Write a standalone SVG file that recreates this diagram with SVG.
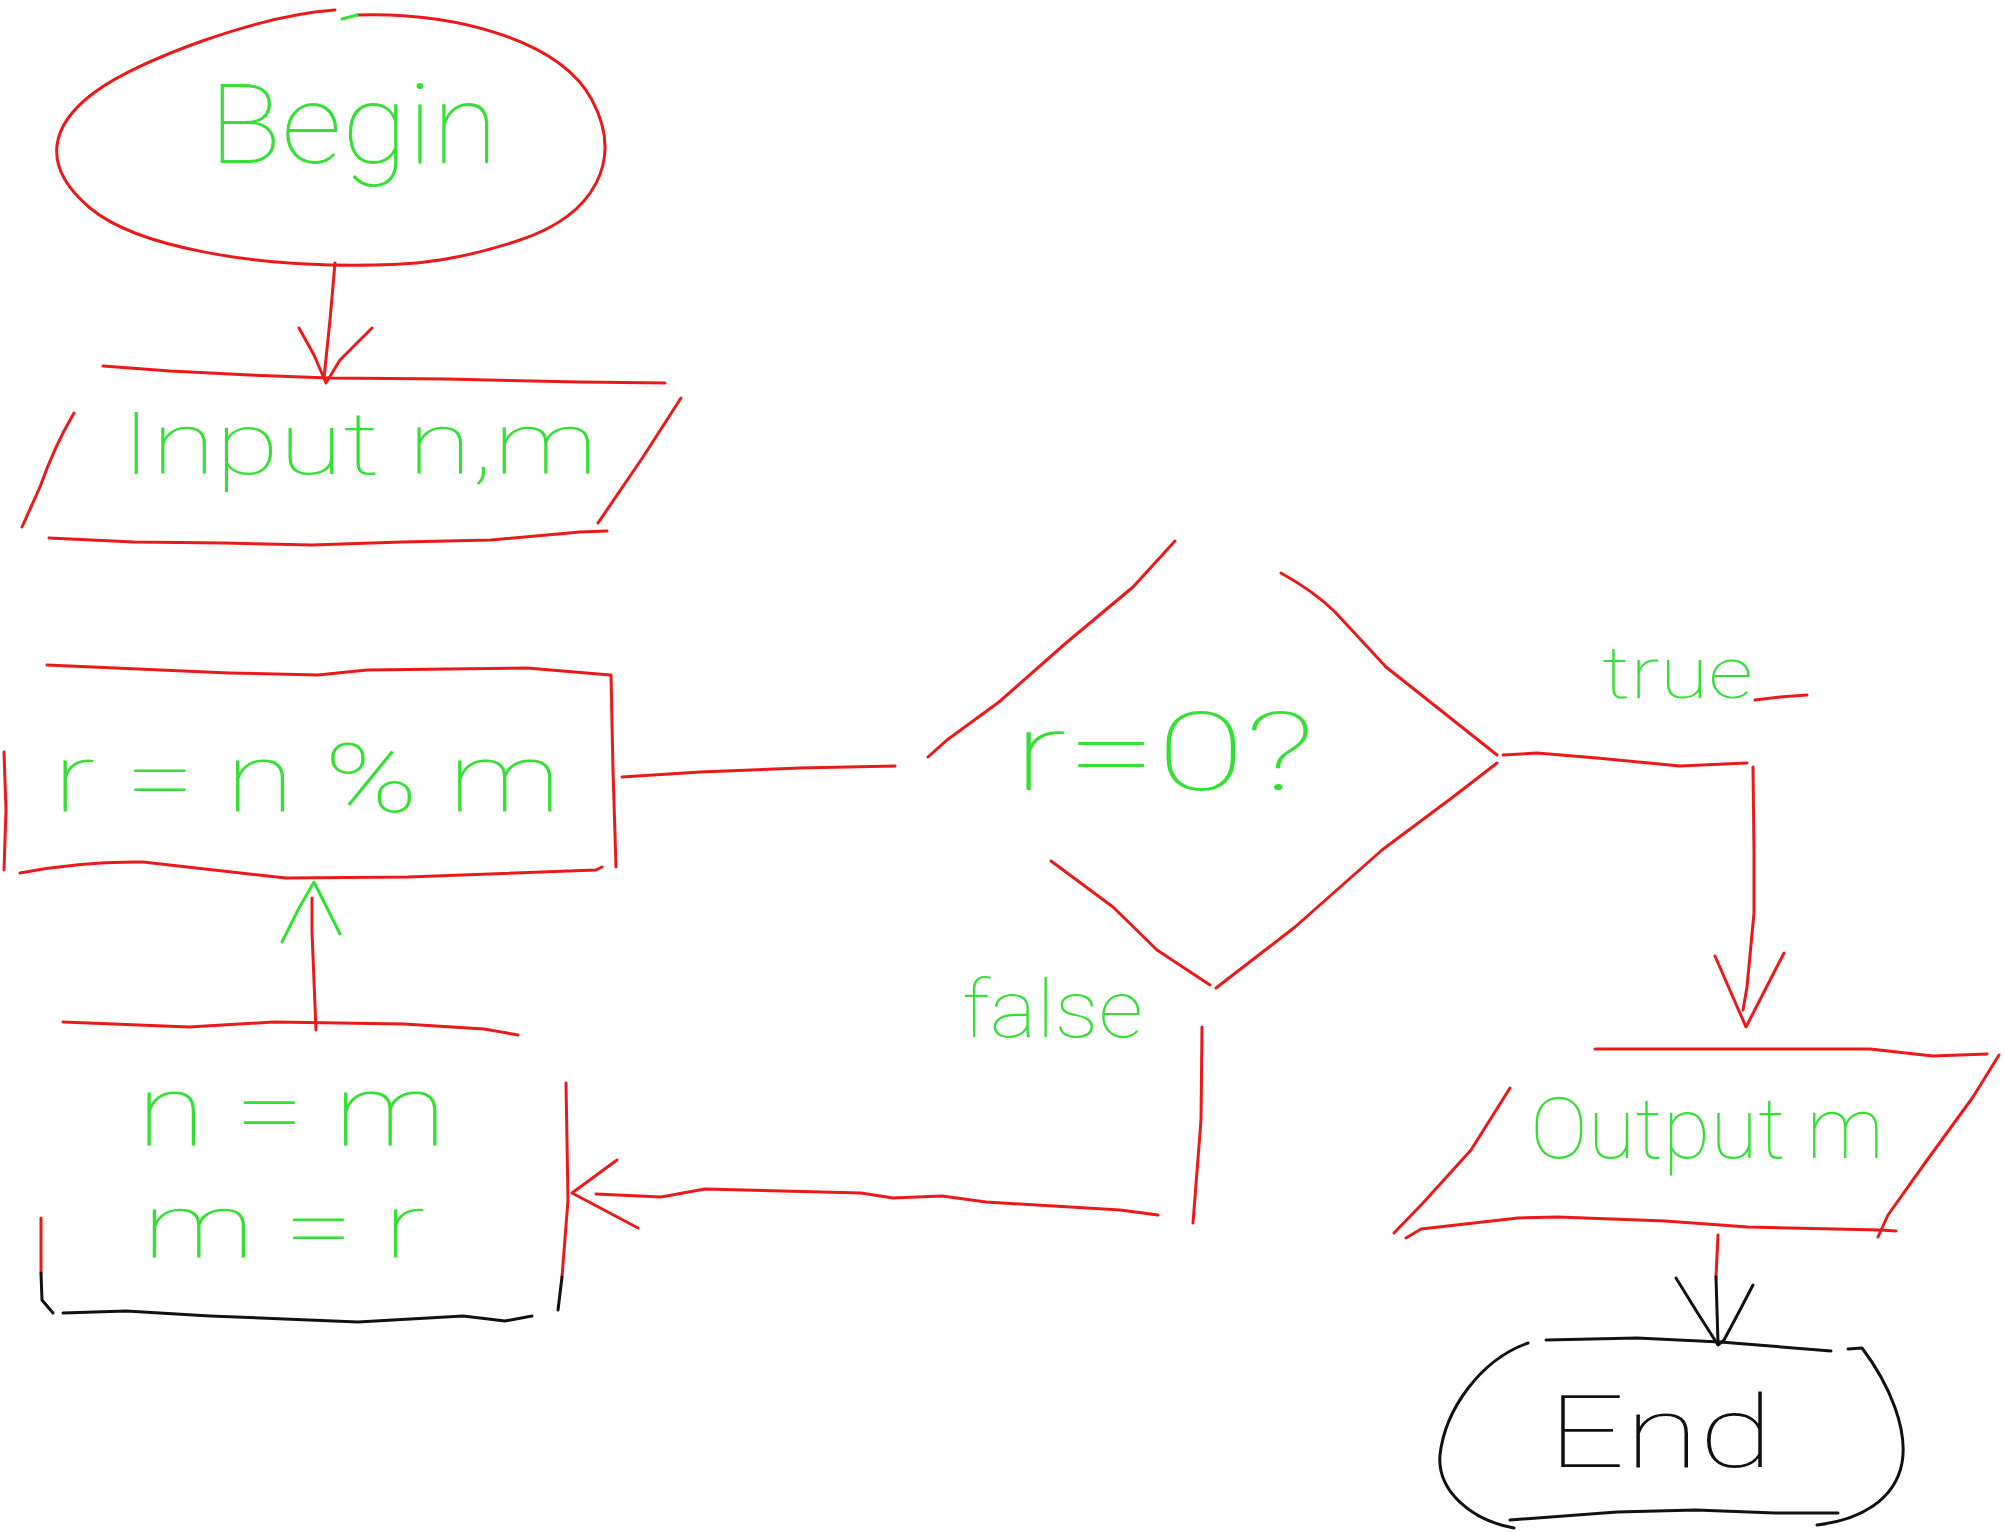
<svg xmlns="http://www.w3.org/2000/svg" width="2004" height="1532" viewBox="0 0 2004 1532">
<style>
.r{fill:none;stroke:#ea1a1a;stroke-width:3;stroke-linecap:round;stroke-linejoin:round}
.k{fill:none;stroke:#111;stroke-width:3;stroke-linecap:round;stroke-linejoin:round}
.g{fill:none;stroke:#35e035;stroke-width:3;stroke-linecap:round;stroke-linejoin:round}
.t{fill:#35e035;font-family:Roboto,Inter,"Noto Sans",sans-serif;font-weight:100}
.tk{fill:#111;font-family:Roboto,Inter,"Noto Sans",sans-serif;font-weight:100}
</style>
<rect width="2004" height="1532" fill="#fff"/>
<g id="begin">
<path class="r" d="M357 15 C455 12 560 40 592 100 S595 215 520 240 S400 266 331 265 S140 250 90 208 S50 125 95 92 S260 15 335 10"/>
<path class="g" d="M342 19 L357 15"/>
<text class="t" x="209" y="163" font-size="112" textLength="289" lengthAdjust="spacingAndGlyphs">Begin</text>
</g>
<g id="input">
<path class="r" d="M103 366 L170 371 L250 375 L330 378 L446 379 L580 382 L665 383"/>
<path class="r" d="M74 413 Q54 447 40 487 L22 527"/>
<path class="r" d="M681 398 L643 457 L598 523"/>
<path class="r" d="M49 538 L134 542 L223 543 L312 545 L402 542 L491 540 L580 532 L607 531"/>
<text class="t" x="121" y="474" font-size="88" textLength="477" lengthAdjust="spacingAndGlyphs">Input n,m</text>
</g>
<g id="process">
<path class="r" d="M47 665 L229 673 L318 675 L367 670 L527 668 L610 675"/>
<path class="r" d="M611 675 L613 770 L616 867"/>
<path class="r" d="M20 873 Q82 861 143 862 L286 878 L408 877 L596 870 L602 867"/>
<path class="r" d="M4 752 L6 810 L4 870"/>
<text class="t" x="53" y="812" font-size="96" textLength="508" lengthAdjust="spacingAndGlyphs">r = n % m</text>
</g>
<g id="decision">
<path class="r" d="M928 757 L947 740 L999 702 L1066 643 L1133 587 L1175 541"/>
<path class="r" d="M1281 573 Q1315 592 1335 612 L1386 667 L1434 705 L1497 755"/>
<path class="r" d="M1497 763 L1453 797 L1382 850 L1295 927 L1216 988"/>
<path class="r" d="M1051 861 L1113 907 L1157 950 L1210 985"/>
<text class="t" x="1013" y="790" font-size="110" textLength="302" lengthAdjust="spacingAndGlyphs">r=0?</text>
</g>
<g id="assign">
<path class="r" d="M63 1022 L189 1027 L274 1022 L404 1024 L484 1029 L518 1035"/>
<path class="r" d="M566 1083 L568 1200 L562 1277"/>
<path class="k" d="M562 1277 L558 1310"/>
<path class="r" d="M41 1218 L41 1273"/>
<path class="k" d="M41 1273 L42 1300 L53 1313"/>
<path class="k" d="M63 1313 L126 1311 L210 1316 L358 1322 L463 1316 L505 1321 L532 1316"/>
<text class="t" x="137" y="1145" font-size="100" textLength="309" lengthAdjust="spacingAndGlyphs">n = m</text>
<text class="t" x="143" y="1258" font-size="90" textLength="282" lengthAdjust="spacingAndGlyphs">m = r</text>
</g>
<g id="output">
<path class="r" d="M1595 1049 L1870 1049 L1933 1056 L1987 1054"/>
<path class="r" d="M1999 1055 L1973 1097 L1925 1163 L1888 1215 L1878 1237"/>
<path class="r" d="M1510 1088 L1471 1150 L1423 1203 L1394 1233"/>
<path class="r" d="M1406 1238 L1421 1229 L1518 1218 L1558 1217 L1665 1221 L1748 1227 L1880 1230 L1896 1231"/>
<text class="t" x="1530" y="1158" font-size="86" textLength="354" lengthAdjust="spacingAndGlyphs">Output m</text>
</g>
<g id="end">
<path class="k" d="M1546 1340 L1637 1338 L1720 1342 L1831 1351"/>
<path class="k" d="M1528 1343 C1480 1360 1445 1410 1440 1455 C1437 1490 1470 1520 1514 1528"/>
<path class="k" d="M1848 1349 L1862 1348 C1890 1385 1908 1430 1902 1463 C1895 1500 1860 1520 1817 1525"/>
<path class="k" d="M1510 1520 L1617 1512 L1696 1510 L1775 1513 L1838 1513"/>
<text class="tk" x="1548" y="1467" font-size="100" textLength="225" lengthAdjust="spacingAndGlyphs">End</text>
</g>
<g id="connectors">
<path class="r" d="M335 263 L330 320 L324 378"/>
<path class="r" d="M299 328 L314 355 L326 383 L340 360 L372 328"/>
<path class="r" d="M622 777 L700 772 L800 768 L895 766"/>
<path class="r" d="M1503 755 L1537 753 L1597 758 L1680 766 L1747 763"/>
<path class="r" d="M1753 767 L1754 853 L1754 913 L1747 987 L1743 1010"/>
<path class="r" d="M1715 956 L1732 995 L1746 1027 L1765 990 L1784 953"/>
<path class="r" d="M1202 1027 L1201 1120 L1193 1223"/>
<path class="r" d="M1158 1215 L1120 1210 L986 1202 L942 1196 L893 1198 L861 1193 L705 1189 L661 1197 L596 1194"/>
<path class="r" d="M617 1160 L572 1193 L638 1228"/>
<path class="r" d="M316 1030 L312 932 L312 898"/>
<path class="g" d="M282 942 L298 910 L314 882 L328 910 L340 934"/>
<path class="r" d="M1718 1235 L1716 1277"/>
<path class="k" d="M1716 1277 L1718 1343"/>
<path class="k" d="M1676 1278 L1697 1312 L1718 1345 L1724 1340 L1740 1310 L1753 1285"/>
<path class="r" d="M1755 700 L1780 697 L1807 695"/>
<text class="t" x="1602" y="698" font-size="72" textLength="151" lengthAdjust="spacingAndGlyphs">true</text>
<text class="t" x="962" y="1037" font-size="80" textLength="181" lengthAdjust="spacingAndGlyphs">false</text>
</g>
</svg>
